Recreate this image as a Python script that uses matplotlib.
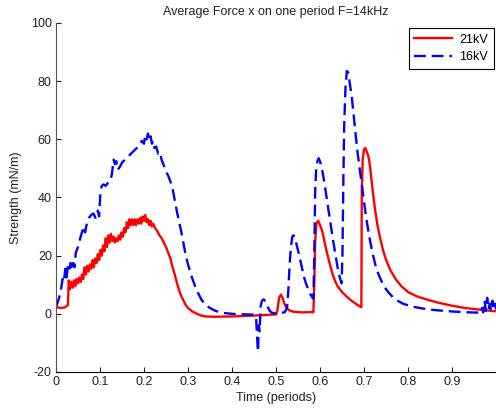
import numpy as np
import matplotlib.pyplot as plt

plt.rcParams['font.family'] = ['Liberation Sans', 'DejaVu Sans']
plt.rcParams['axes.unicode_minus'] = False

# 21kV curve (red, solid)
t_21 = [0, 0.01, 0.02, 0.027, 0.029, 0.032, 0.035, 0.038, 0.041, 0.044, 0.047, 0.05,
        0.053, 0.056, 0.059, 0.062, 0.065, 0.068, 0.071, 0.074, 0.077, 0.08, 0.083,
        0.086, 0.089, 0.092, 0.095, 0.098, 0.101, 0.104, 0.107, 0.11, 0.113, 0.116,
        0.119, 0.122, 0.125, 0.128, 0.131, 0.134, 0.137, 0.14, 0.143, 0.146, 0.149,
        0.152, 0.155, 0.158, 0.161, 0.164, 0.167, 0.17, 0.173, 0.176, 0.179, 0.182,
        0.185, 0.188, 0.191, 0.194, 0.197, 0.2, 0.203, 0.206, 0.209, 0.212, 0.215,
        0.218, 0.221, 0.225, 0.23, 0.235, 0.24, 0.245, 0.25, 0.255, 0.26, 0.265, 0.27,
        0.275, 0.28, 0.285, 0.29, 0.295, 0.3, 0.31, 0.32, 0.33, 0.34, 0.36, 0.4, 0.45,
        0.5, 0.503, 0.507, 0.511, 0.515, 0.519, 0.523, 0.53, 0.54, 0.56, 0.585, 0.587,
        0.589, 0.592, 0.596, 0.6, 0.605, 0.61, 0.615, 0.62, 0.625, 0.63, 0.635, 0.64,
        0.65, 0.66, 0.67, 0.68, 0.69, 0.694, 0.695, 0.697, 0.7, 0.703, 0.707, 0.711,
        0.715, 0.72, 0.725, 0.73, 0.736, 0.743, 0.75, 0.76, 0.773, 0.785, 0.8, 0.82,
        0.85, 0.87, 0.9, 0.93, 0.96, 0.99, 1.0]
f_21 = [2.4, 2.0, 2.2, 3.0, 11.5, 8.5, 11, 9, 11.5, 9.5, 12, 10.5,
        12.5, 11, 13.5, 12, 16, 13.5, 16.5, 14.5, 17, 15.5, 18.5,
        16, 19, 17.5, 20.5, 18.5, 22, 20, 23.5, 21.5, 26, 23,
        27, 24.5, 27.5, 25, 26.5, 24.5, 26, 25, 27, 25.5, 28,
        26.5, 29.5, 28, 31.5, 29.5, 32.5, 30.5, 32.5, 30.5, 32.5, 30.5,
        32.5, 31, 33, 31, 33.5, 32, 34, 31.5, 32.5, 30.5, 32,
        30, 31, 29.5, 28.5, 27, 26, 24.5, 23, 21, 19, 16, 13.5,
        10.5, 8, 6, 4.5, 3, 2, 0.8, 0, -0.6, -0.9, -1, -0.9, -0.6,
        -0.2, 1, 5.5, 6.6, 5.5, 3.5, 2.2, 1.2, 0.7, 0.5, 0.6, 10,
        25, 31, 32, 30.5, 28.5, 25, 21.5, 18.5, 15.5, 13, 11, 9.5,
        7.5, 6, 4.7, 3.6, 2.6, 2.3, 42, 53, 56.5, 57, 55.5, 53.5,
        49, 42, 36, 31, 26.5, 22, 18.6, 15, 11.7, 9.5, 7.5, 6,
        4.6, 3.8, 2.8, 2.0, 1.5, 1.0, 0.9]

# 16kV curve (blue, dashed)
t_16 = [0, 0.004, 0.008, 0.012, 0.015, 0.018, 0.021, 0.024, 0.027, 0.03, 0.033, 0.036,
        0.039, 0.042, 0.045, 0.05, 0.055, 0.06, 0.063, 0.066, 0.07, 0.075, 0.08, 0.085,
        0.09, 0.095, 0.098, 0.101, 0.104, 0.108, 0.113, 0.118, 0.123, 0.127, 0.131,
        0.134, 0.137, 0.14, 0.145, 0.15, 0.16, 0.17, 0.18, 0.19, 0.195, 0.2, 0.203,
        0.206, 0.209, 0.212, 0.215, 0.218, 0.221, 0.224, 0.228, 0.232, 0.236, 0.24,
        0.245, 0.25, 0.255, 0.26, 0.265, 0.27, 0.275, 0.28, 0.285, 0.29, 0.295, 0.3,
        0.305, 0.31, 0.32, 0.33, 0.34, 0.35, 0.36, 0.37, 0.38, 0.4, 0.43, 0.452, 0.455,
        0.457, 0.459, 0.461, 0.463, 0.465, 0.468, 0.472, 0.476, 0.48, 0.485, 0.49, 0.5,
        0.51, 0.52, 0.525, 0.528, 0.531, 0.534, 0.537, 0.54, 0.544, 0.548, 0.553, 0.558,
        0.563, 0.568, 0.573, 0.578, 0.583, 0.585, 0.587, 0.589, 0.591, 0.594, 0.597,
        0.6, 0.605, 0.61, 0.615, 0.62, 0.625, 0.63, 0.635, 0.64, 0.645, 0.649, 0.651,
        0.653, 0.655, 0.658, 0.661, 0.664, 0.668, 0.672, 0.676, 0.68, 0.685, 0.69,
        0.695, 0.7, 0.706, 0.712, 0.72, 0.728, 0.736, 0.745, 0.755, 0.765, 0.775, 0.79,
        0.81, 0.83, 0.86, 0.9, 0.94, 0.965, 0.968, 0.971, 0.974, 0.977, 0.98, 0.983,
        0.986, 0.989, 0.992, 0.995, 0.998, 1.0]
f_16 = [2.5, 4, 6, 9, 12, 11, 15.5, 12.5, 16.5, 15, 17.5, 15,
        17.5, 16, 21, 23, 26, 28.5, 30, 28, 31, 33, 34, 34.5,
        33, 35.5, 33.5, 42, 44, 44.5, 44, 45, 45.5, 48, 53,
        51.5, 52.5, 49.5, 50.5, 52, 53.5, 55, 56.5, 58, 59.5, 58.5, 61.5,
        60, 62, 59.5, 61, 58.5, 59.5, 57, 57.5, 55, 55.5, 53,
        51, 49, 47.5, 45.5, 43, 39, 35, 31.5, 28, 24, 20, 17,
        14.5, 12, 8, 5, 3, 2, 1.2, 0.6, 0.3, 0, -0.2, -0.3, -2,
        -8, -13, -4, -6, 2.5, 4.5, 5, 4.2, 2.8, 1.2, 0.4, 0.1,
        0.2, 0.6, 2, 8, 17, 23, 26.5, 27, 25.5, 23, 20, 16.5,
        13, 10.5, 8.5, 6.8, 5.5, 5.2, 20, 42, 49, 52.5, 53.5,
        52.5, 49.5, 45, 40, 35, 30, 25, 20.5, 16, 12.5, 10.5, 20,
        45, 65, 78, 83.5, 83, 79, 75, 69, 63, 56, 50,
        44.5, 38.5, 32, 26.5, 20.5, 15.5, 12.5, 9.5, 7.5, 5.8, 4.6, 3.4,
        2.5, 1.9, 1.3, 0.8, 0.5, 0.4, 2, 0.5, 4.5, 1, 5.5, 1.5,
        3.5, 1, 4.5, 1.5, 3.5, 1.5]

labels = ['21kV', '16kV']
x_ticks = [0, 0.1, 0.2, 0.3, 0.4, 0.5, 0.6, 0.7, 0.8, 0.9]
x_tick_labels = ['0', '0.1', '0.2', '0.3', '0.4', '0.5', '0.6', '0.7', '0.8', '0.9']
y_ticks = [-20, 0, 20, 40, 60, 80, 100]

fig = plt.figure(figsize=(4.96, 4.13), dpi=100)
ax = fig.add_axes([56 / 496, 41 / 413, 440 / 496, 349 / 413])

ax.plot(t_21, f_21, color='#ff0000', lw=1.7, label=labels[0])
ax.plot(t_16, f_16, color='#0000ff', lw=1.7, ls=(0, (5, 2.5)), label=labels[1])

ax.set_xlim(0, 1)
ax.set_ylim(-20, 100)
ax.set_xticks(x_ticks)
ax.set_xticklabels(x_tick_labels)
ax.set_yticks(y_ticks)

ax.spines['top'].set_visible(False)
ax.spines['right'].set_visible(False)
ax.spines['left'].set_color('#555555')
ax.spines['bottom'].set_color('black')
ax.tick_params(direction='in', length=3.5, labelsize=9, colors='#222222', pad=3)

ax.set_title('Average Force x on one period F=14kHz', fontsize=9, pad=6, color='#222222')
ax.set_xlabel('Time (periods)', fontsize=9, labelpad=3, color='#222222')
ax.set_ylabel('Strength (mN/m)', fontsize=9, labelpad=6, color='#222222')

leg = ax.legend(loc='upper right', bbox_to_anchor=(0.995, 0.985), fontsize=9,
                fancybox=False, edgecolor='black', framealpha=1, handlelength=3.0,
                borderaxespad=0, borderpad=0.45, labelspacing=0.45, handletextpad=0.6)
leg.get_frame().set_linewidth(0.8)

fig.savefig('out.png', dpi=100)
